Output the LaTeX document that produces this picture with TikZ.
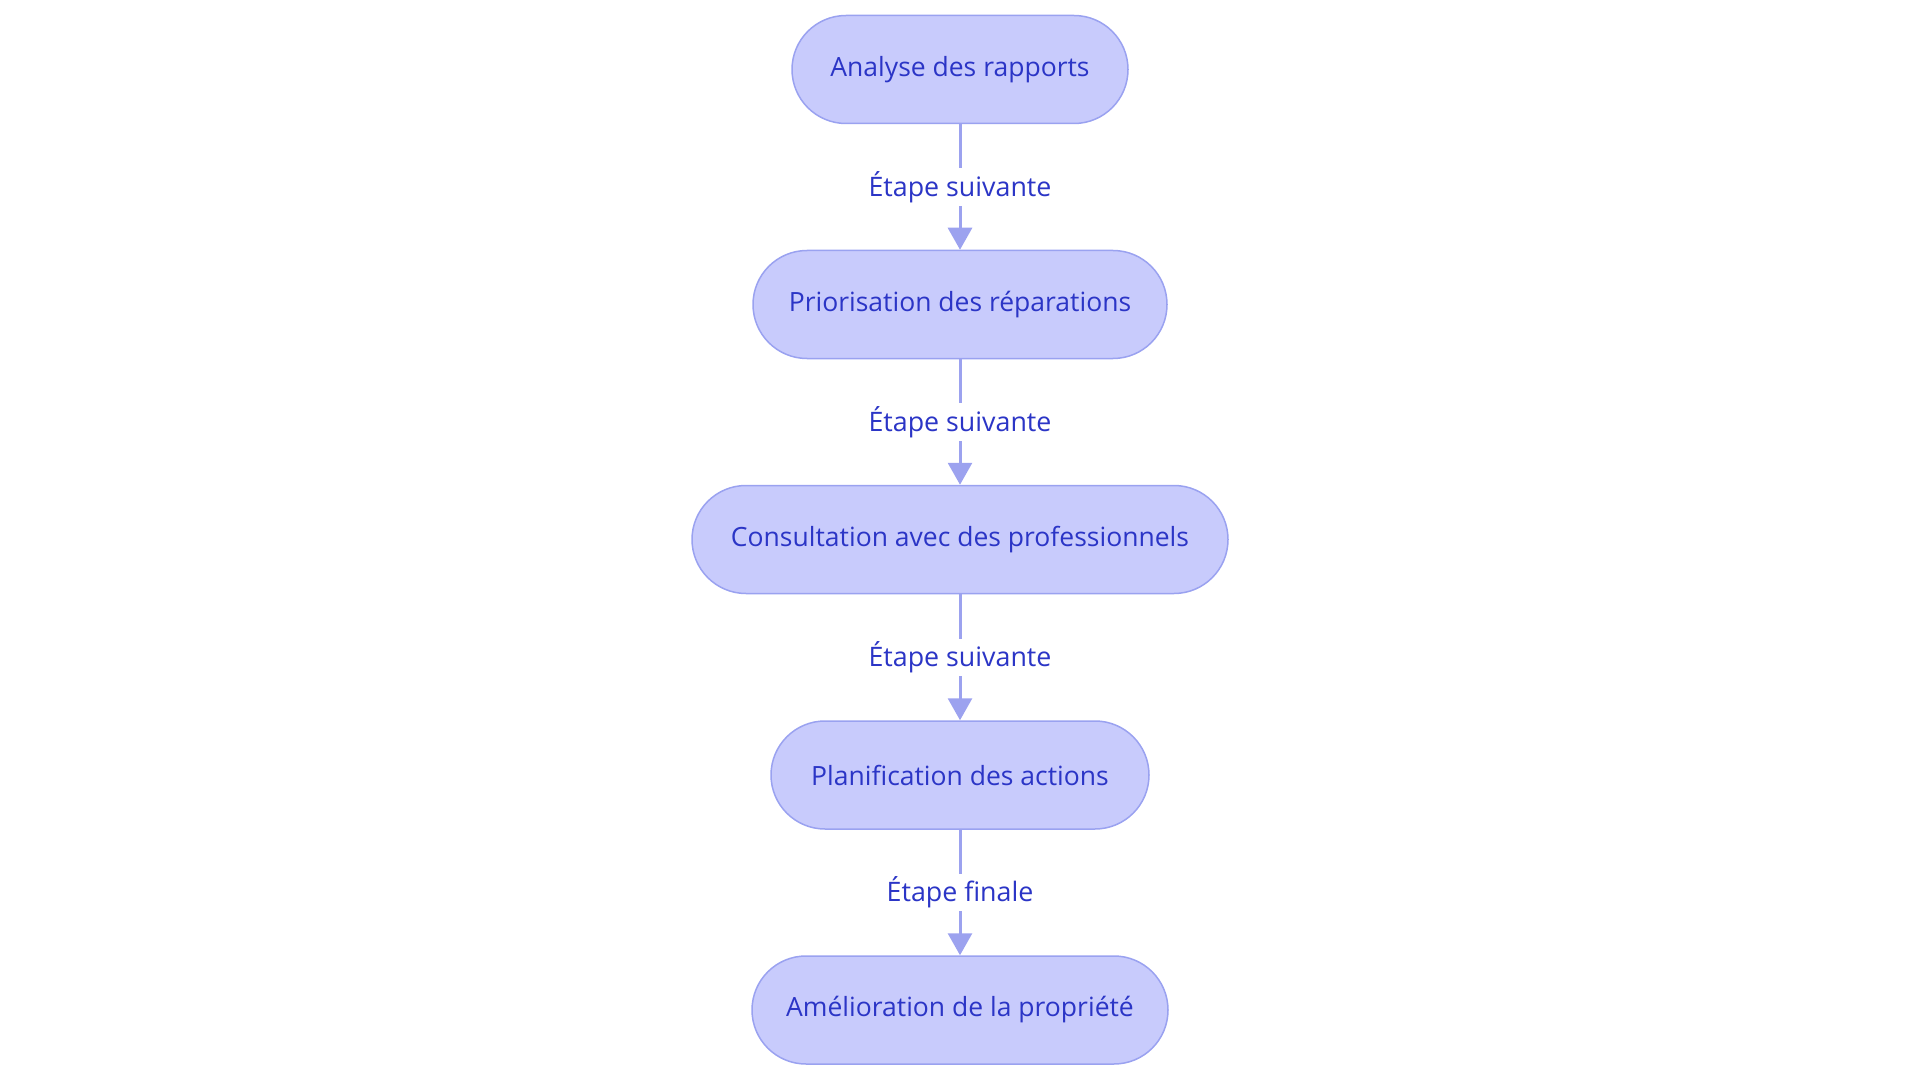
\documentclass[tikz,border=0pt]{standalone}
\usepackage{fontspec}
\setmainfont{Open Sans}
\usetikzlibrary{arrows.meta}
\definecolor{nodefill}{HTML}{C8CBFC}
\definecolor{nodedraw}{HTML}{9AA2F0}
\definecolor{txt}{HTML}{2B35C6}
\definecolor{arr}{HTML}{9CA2EF}
\tikzset{
  stepbox/.style={draw=nodedraw, fill=nodefill, line width=1.5pt, rounded corners=54pt, minimum height=108pt, inner sep=0pt, text=txt, font=\fontsize{26.5}{30}\selectfont},
  lbl/.style={fill=white, text=txt, font=\fontsize{26.8}{30}\selectfont, inner sep=3pt},
  conn/.style={draw=arr, line width=3pt, -{Triangle[length=22pt,width=24pt]}}
}
\begin{document}
\begin{tikzpicture}[x=1pt,y=1pt]
\useasboundingbox (0,0) rectangle (1920,-1083);
\node[stepbox, minimum width=336pt] (n1) at (960,-69.5) {Analyse des rapports};
\node[stepbox, minimum width=414pt] (n2) at (960,-304.5) {Priorisation des réparations};
\node[stepbox, minimum width=536pt] (n3) at (960,-539.5) {Consultation avec des professionnels};
\node[stepbox, minimum width=378pt] (n4) at (960,-775) {Planification des actions};
\node[stepbox, minimum width=416pt] (n5) at (960,-1010) {Amélioration de la propriété};
\draw[conn] (n1) -- node[lbl] {Étape suivante} (n2);
\draw[conn] (n2) -- node[lbl] {Étape suivante} (n3);
\draw[conn] (n3) -- node[lbl] {Étape suivante} (n4);
\draw[conn] (n4) -- node[lbl] {Étape finale} (n5);
\end{tikzpicture}
\end{document}
